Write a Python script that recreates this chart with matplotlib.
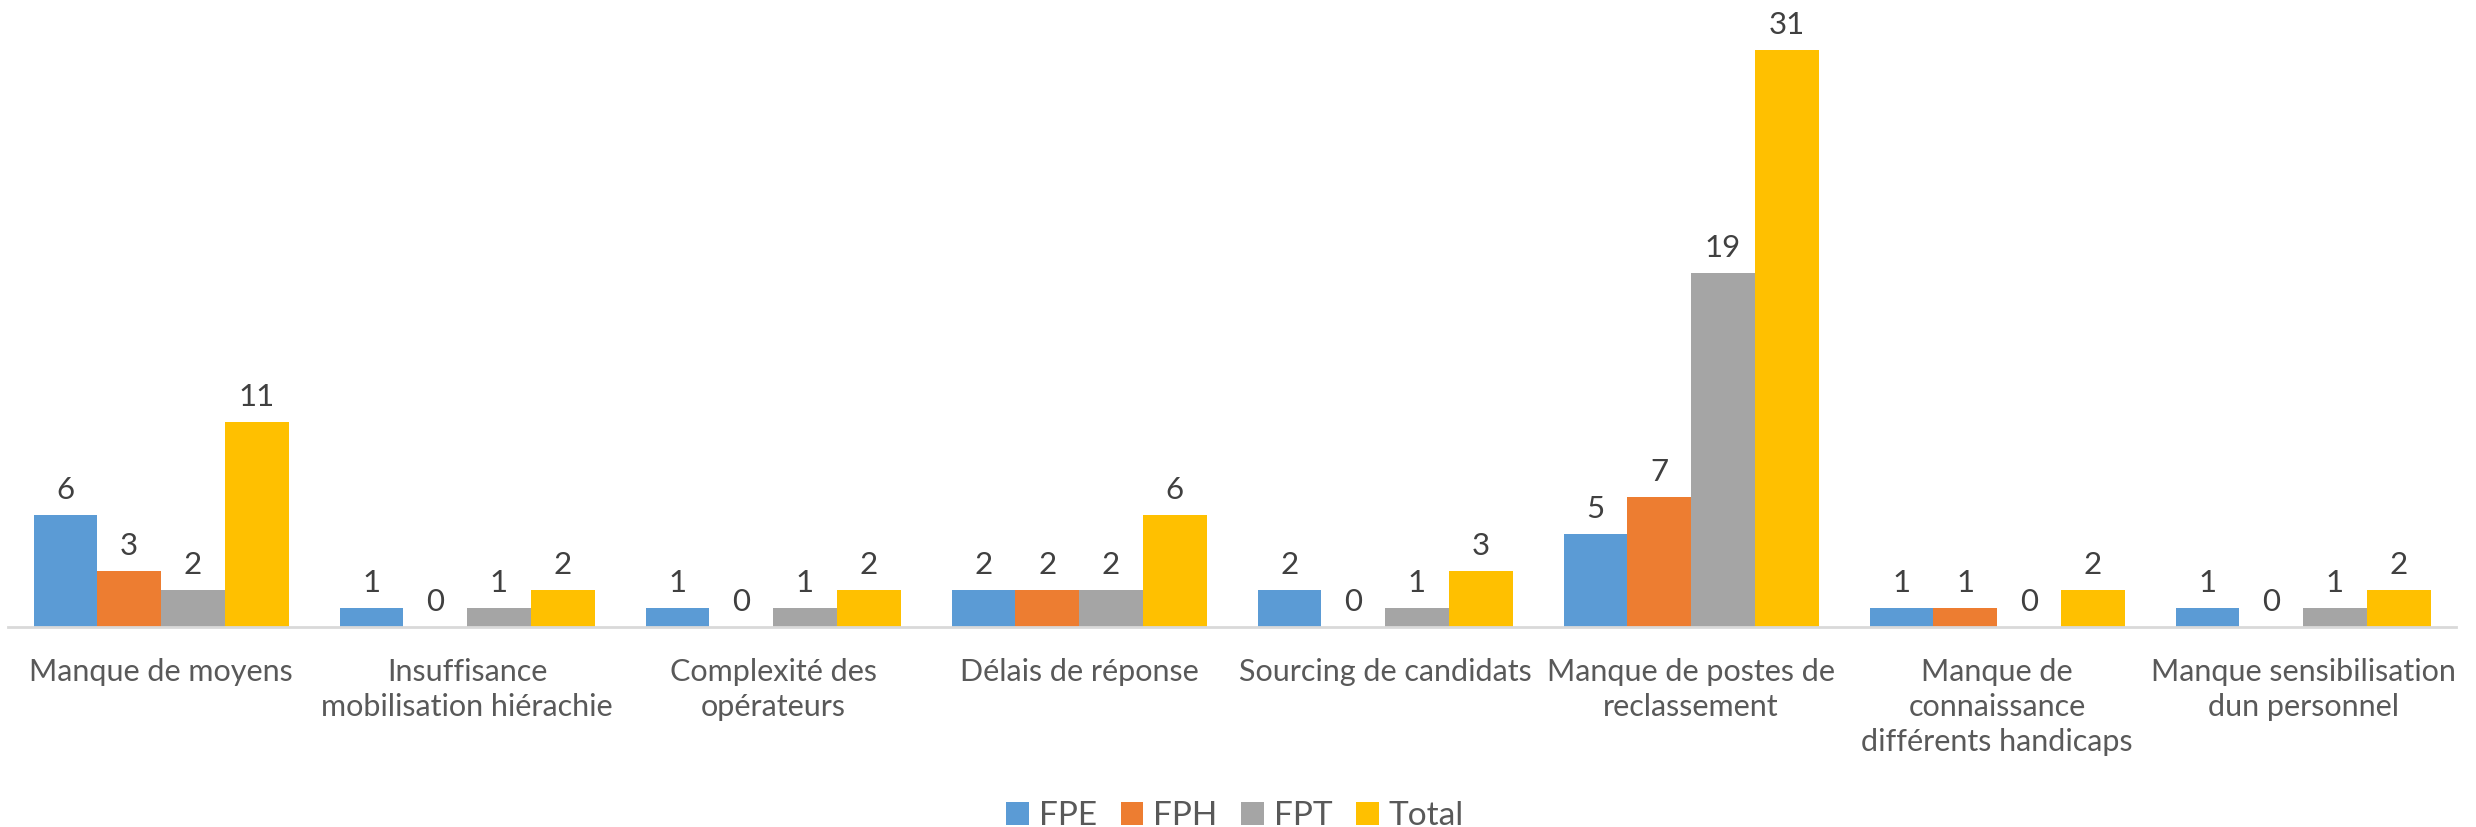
import matplotlib
matplotlib.use("Agg")
import matplotlib.pyplot as plt
import numpy as np

plt.rcParams['font.family'] = ['Lato', 'DejaVu Sans']

categories = [
    "Manque de moyens",
    "Insuffisance\nmobilisation hiérachie",
    "Complexité des\nopérateurs",
    "Délais de réponse",
    "Sourcing de candidats",
    "Manque de postes de\nreclassement",
    "Manque de\nconnaissance\ndifférents handicaps",
    "Manque sensibilisation\ndun personnel",
]
series = ["FPE", "FPH", "FPT", "Total"]
fpe = [6, 1, 1, 2, 2, 5, 1, 1]
fph = [3, 0, 0, 2, 0, 7, 1, 0]
fpt = [2, 1, 1, 2, 1, 19, 0, 1]
total = [11, 2, 2, 6, 3, 31, 2, 2]
colors = ["#5B9BD5", "#ED7D31", "#A5A5A5", "#FFC000"]

fig = plt.figure(figsize=(24.76, 8.27), dpi=100)
ax = fig.add_axes([8 / 2476, 1 - 627 / 827, (2456 - 8) / 2476, 627 / 827])

x = np.arange(len(categories))
group = 1 / 1.2  # gap width 20%
w = group / 4
for i, (name, vals) in enumerate(zip(series, [fpe, fph, fpt, total])):
    pos = x - group / 2 + w * (i + 0.5)
    ax.bar(pos, vals, w, color=colors[i], label=name, zorder=2)
    for xi, v in zip(pos, vals):
        ax.annotate(str(v), (xi, v), xytext=(0, 8), textcoords="offset points",
                    ha="center", va="bottom", fontsize=22.5, color="#404040",
                    annotation_clip=False)

ax.set_xlim(-0.5, len(categories) - 0.5)
ax.set_ylim(0, 33.7)
ax.set_xticks(x)
ax.set_xticklabels(categories, fontsize=22, color="#595959", linespacing=1.32)
ax.tick_params(axis="x", length=0, pad=22)
ax.set_yticks([])
for s in ["top", "right", "left"]:
    ax.spines[s].set_visible(False)
ax.spines["bottom"].set_color("#D9D9D9")
ax.spines["bottom"].set_linewidth(2)

fig.legend(loc="center", bbox_to_anchor=(1235 / 2476, 1 - 816 / 827), ncol=4,
           frameon=False, borderaxespad=0, borderpad=0,
           fontsize=24, handlelength=0.67, handleheight=0.67, handletextpad=0.3,
           columnspacing=0.72, labelcolor="#595959")

fig.savefig("out.png", dpi=100)
